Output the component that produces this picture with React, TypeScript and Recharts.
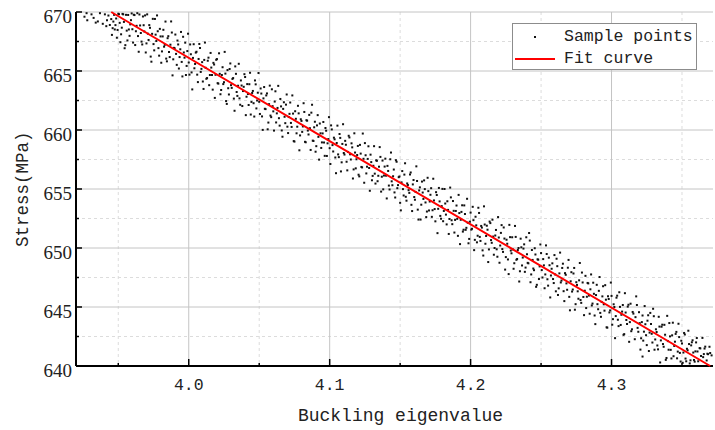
import React from "react";
import {
  ScatterChart,
  Scatter,
  XAxis,
  YAxis,
  CartesianGrid,
  Legend,
} from "recharts";

// values (first pass over the cloud)
const samplePointsA: [number, number][] = [
  [3.926, 669.6], [3.928, 669.3], [3.931, 669.8], [3.934, 669.1], [3.937, 669.9], [3.939, 669.0],
  [3.942, 669.3], [3.943, 669.7], [3.944, 668.9], [3.945, 669.4], [3.946, 668.63], [3.947, 669.76],
  [3.948, 668.89], [3.949, 667.82], [3.95, 669.85], [3.951, 669.08], [3.952, 668.11], [3.953, 669.84],
  [3.954, 669.16], [3.955, 667.19], [3.956, 668.42], [3.957, 669.75], [3.958, 667.98], [3.959, 669.31],
  [3.96, 668.54], [3.961, 669.77], [3.962, 667.2], [3.963, 668.83], [3.964, 667.96], [3.965, 669.79],
  [3.966, 668.22], [3.967, 667.25], [3.968, 668.88], [3.969, 669.71], [3.97, 667.34], [3.971, 668.16],
  [3.972, 668.89], [3.973, 666.22], [3.974, 668.15], [3.975, 667.28], [3.976, 669.41], [3.977, 667.54],
  [3.978, 668.37], [3.979, 666.3], [3.98, 667.93], [3.981, 666.66], [3.982, 668.49], [3.983, 667.22],
  [3.984, 666.05], [3.985, 667.78], [3.986, 666.61], [3.987, 667.23], [3.988, 668.26], [3.989, 665.99],
  [3.99, 666.92], [3.991, 666.45], [3.992, 667.58], [3.993, 665.21], [3.994, 666.84], [3.995, 665.77],
  [3.996, 667.9], [3.997, 666.13], [3.998, 664.66], [3.999, 666.69], [4.0, 665.72], [4.001, 667.25],
  [4.002, 664.88], [4.003, 666.11], [4.004, 665.23], [4.005, 666.56], [4.006, 664.69], [4.007, 666.02],
  [4.008, 666.95], [4.009, 665.18], [4.01, 664.11], [4.011, 665.94], [4.012, 665.27], [4.013, 664.4],
  [4.014, 666.13], [4.015, 664.66], [4.016, 665.29], [4.017, 663.42], [4.018, 665.55], [4.019, 664.68],
  [4.02, 666.01], [4.021, 663.93], [4.022, 664.76], [4.023, 663.39], [4.024, 665.32], [4.025, 664.05],
  [4.026, 664.78], [4.027, 662.21], [4.028, 663.54], [4.029, 665.17], [4.03, 663.8], [4.031, 664.33],
  [4.032, 662.66], [4.033, 665.39], [4.034, 663.22], [4.035, 663.75], [4.036, 662.68], [4.037, 664.2],
  [4.038, 662.03], [4.039, 663.66], [4.04, 664.49], [4.041, 662.82], [4.042, 663.05], [4.043, 663.88],
  [4.044, 661.31], [4.045, 663.14], [4.046, 662.27], [4.047, 664.2], [4.048, 661.83], [4.049, 663.16],
  [4.05, 662.39], [4.051, 663.52], [4.052, 661.15], [4.053, 662.68], [4.054, 661.8], [4.055, 662.93],
  [4.056, 660.06], [4.057, 662.19], [4.058, 661.22], [4.059, 663.45], [4.06, 661.58], [4.061, 662.41],
  [4.062, 660.64], [4.063, 661.87], [4.064, 661.0], [4.065, 662.63], [4.066, 659.96], [4.067, 661.79],
  [4.068, 661.12], [4.069, 662.15], [4.07, 660.28], [4.071, 661.1], [4.072, 662.33], [4.073, 660.26],
  [4.074, 661.39], [4.075, 659.02], [4.076, 660.95], [4.077, 660.28], [4.078, 661.41], [4.079, 659.54],
  [4.08, 660.77], [4.081, 660.3], [4.082, 661.53], [4.083, 658.96], [4.084, 660.79], [4.085, 659.62],
  [4.086, 660.15], [4.087, 661.47], [4.088, 659.1], [4.089, 660.23], [4.09, 658.16], [4.091, 660.39],
  [4.092, 659.42], [4.093, 660.55], [4.094, 658.48], [4.095, 659.71], [4.096, 658.94], [4.097, 660.17],
  [4.098, 657.8], [4.099, 659.23], [4.1, 658.46], [4.101, 660.39], [4.102, 658.72], [4.103, 659.35],
  [4.104, 657.67], [4.105, 658.9], [4.106, 657.93], [4.107, 659.66], [4.108, 656.49], [4.109, 658.82],
  [4.11, 658.05], [4.111, 659.08], [4.112, 657.31], [4.113, 658.14], [4.114, 659.37], [4.115, 657.5],
  [4.116, 658.53], [4.117, 656.66], [4.118, 658.09], [4.119, 657.52], [4.12, 658.65], [4.121, 656.07],
  [4.122, 658.0], [4.123, 656.83], [4.124, 657.56], [4.125, 658.89], [4.126, 656.32], [4.127, 657.55],
  [4.128, 656.78], [4.129, 657.91], [4.13, 655.74], [4.131, 656.97], [4.132, 656.3], [4.133, 657.43],
  [4.134, 655.66], [4.135, 656.89], [4.136, 657.72], [4.137, 656.04], [4.138, 654.97], [4.139, 656.9],
  [4.14, 656.13], [4.141, 656.96], [4.142, 655.29], [4.143, 657.52], [4.144, 655.65], [4.145, 656.08],
  [4.146, 654.71], [4.147, 657.44], [4.148, 655.07], [4.149, 656.0], [4.15, 653.83], [4.151, 655.56],
  [4.152, 654.99], [4.153, 656.22], [4.154, 654.34], [4.155, 655.47], [4.156, 654.9], [4.157, 656.23],
  [4.158, 653.66], [4.159, 655.39], [4.16, 654.32], [4.161, 654.75], [4.162, 655.68], [4.163, 652.41],
  [4.164, 655.14], [4.165, 653.67], [4.166, 654.7], [4.167, 655.73], [4.168, 653.86], [4.169, 653.09],
  [4.17, 654.82], [4.171, 653.94], [4.172, 655.07], [4.173, 653.2], [4.174, 654.03], [4.175, 652.26],
  [4.176, 654.49], [4.177, 653.32], [4.178, 653.95], [4.179, 652.48], [4.18, 655.01], [4.181, 653.14],
  [4.182, 653.77], [4.183, 652.0], [4.184, 653.23], [4.185, 652.46], [4.186, 654.29], [4.187, 652.02],
  [4.188, 653.15], [4.189, 652.38], [4.19, 653.6], [4.191, 651.03], [4.192, 652.96], [4.193, 652.39],
  [4.194, 653.62], [4.195, 651.55], [4.196, 652.88], [4.197, 651.71], [4.198, 652.14], [4.199, 650.77],
  [4.2, 653.0], [4.201, 651.63], [4.202, 652.36], [4.203, 650.69], [4.204, 651.92], [4.205, 651.04],
  [4.206, 652.97], [4.207, 650.6], [4.208, 651.73], [4.209, 649.36], [4.21, 651.99], [4.211, 651.02],
  [4.212, 651.55], [4.213, 649.88], [4.214, 652.11], [4.215, 650.44], [4.216, 650.97], [4.217, 650.0],
  [4.218, 651.53], [4.219, 649.26], [4.22, 650.89], [4.221, 650.21], [4.222, 651.94], [4.223, 649.67],
  [4.224, 650.8], [4.225, 649.23], [4.226, 650.36], [4.227, 647.79], [4.228, 650.92], [4.229, 649.55],
  [4.23, 649.88], [4.231, 648.71], [4.232, 650.94], [4.233, 649.07], [4.234, 650.0], [4.235, 648.03],
  [4.236, 650.06], [4.237, 649.19], [4.238, 650.31], [4.239, 648.34], [4.24, 649.47], [4.241, 648.7],
  [4.242, 650.63], [4.243, 647.76], [4.244, 648.99], [4.245, 648.12], [4.246, 649.45], [4.247, 646.88],
  [4.248, 649.01], [4.249, 648.44], [4.25, 649.57], [4.251, 647.5], [4.252, 648.53], [4.253, 647.76],
  [4.254, 649.49], [4.255, 646.81], [4.256, 648.54], [4.257, 647.67], [4.258, 648.7], [4.259, 647.03],
  [4.26, 647.76], [4.261, 649.09], [4.262, 646.02], [4.263, 647.85], [4.264, 647.08], [4.265, 648.31],
  [4.266, 646.34], [4.267, 647.87], [4.268, 647.0], [4.269, 648.33], [4.27, 645.86], [4.271, 647.18],
  [4.272, 646.31], [4.273, 647.84], [4.274, 644.77], [4.275, 647.1], [4.276, 646.33], [4.277, 647.26],
  [4.278, 645.59], [4.279, 647.92], [4.28, 645.85], [4.281, 646.38], [4.282, 644.91], [4.283, 647.04],
  [4.284, 645.97], [4.285, 646.5], [4.286, 645.13], [4.287, 647.06], [4.288, 644.28], [4.289, 646.01],
  [4.29, 645.24], [4.291, 646.37], [4.292, 644.5], [4.293, 645.43], [4.294, 646.76], [4.295, 644.69],
  [4.296, 645.62], [4.297, 643.25], [4.298, 645.68], [4.299, 644.71], [4.3, 645.94], [4.301, 643.97],
  [4.302, 645.0], [4.303, 644.23], [4.304, 645.96], [4.305, 643.38], [4.306, 645.01], [4.307, 644.34],
  [4.308, 645.17], [4.309, 642.7], [4.31, 644.53], [4.311, 643.56], [4.312, 645.19], [4.313, 643.72],
  [4.314, 642.95], [4.315, 644.58], [4.317, 644.14], [4.318, 645.17], [4.319, 642.9], [4.32, 643.63],
  [4.321, 642.35], [4.322, 640.8], [4.322, 644.28], [4.323, 642.91], [4.324, 643.54], [4.325, 641.77],
  [4.326, 644.3], [4.327, 642.83], [4.328, 643.56], [4.329, 641.99], [4.33, 644.22], [4.331, 642.25],
  [4.332, 642.88], [4.333, 641.41], [4.334, 643.34], [4.335, 642.17], [4.336, 643.5], [4.337, 641.63],
  [4.338, 642.65], [4.339, 640.68], [4.34, 642.11], [4.341, 643.64], [4.342, 641.37], [4.343, 642.6],
  [4.344, 640.83], [4.345, 642.06], [4.346, 642.89], [4.347, 641.22], [4.348, 642.45], [4.349, 640.38],
  [4.35, 641.91], [4.351, 641.14], [4.352, 642.67], [4.353, 640.4], [4.354, 641.33], [4.355, 641.86],
  [4.356, 640.48], [4.357, 642.01], [4.358, 641.14], [4.359, 640.37], [4.36, 642.0], [4.361, 641.23],
  [4.363, 641.49], [4.365, 640.75], [4.366, 641.48], [4.368, 641.04], [4.37, 641.1], [4.371, 640.9],
];

// second pass over the cloud, in between the first one
const samplePointsB: [number, number][] = [
  [3.9275, 669.9], [3.9325, 669.5], [3.9355, 669.2], [3.9405, 669.8], [3.9415, 668.8],
  [3.9455, 668.06], [3.9465, 669.19], [3.9475, 668.52], [3.9485, 669.45], [3.9495, 668.48], [3.9505, 669.81],
  [3.9515, 667.44], [3.9525, 668.67], [3.9535, 669.8], [3.9545, 666.93], [3.9555, 669.76], [3.9565, 667.59],
  [3.9575, 668.52], [3.9585, 668.95], [3.9595, 669.88], [3.9605, 667.41], [3.9615, 669.74], [3.9625, 668.37],
  [3.9635, 669.9], [3.9645, 666.63], [3.9655, 668.86], [3.9665, 667.49], [3.9675, 669.62], [3.9685, 668.35],
  [3.9695, 666.57], [3.9705, 669.8], [3.9715, 667.63], [3.9725, 668.66], [3.9735, 665.79], [3.9745, 669.42],
  [3.9755, 666.75], [3.9765, 668.08], [3.9775, 669.71], [3.9785, 666.94], [3.9795, 668.57], [3.9805, 665.7],
  [3.9815, 667.93], [3.9825, 667.06], [3.9835, 669.19], [3.9845, 665.82], [3.9855, 667.95], [3.9865, 666.18],
  [3.9875, 669.2], [3.9885, 664.63], [3.9895, 666.96], [3.9905, 668.09], [3.9915, 665.52], [3.9925, 667.25],
  [3.9935, 666.18], [3.9945, 668.31], [3.9955, 664.54], [3.9965, 666.57], [3.9975, 667.4], [3.9985, 665.43],
  [3.9995, 668.16], [4.0005, 664.69], [4.0015, 666.42], [4.0025, 663.44], [4.0035, 667.27], [4.0045, 665.6],
  [4.0055, 666.63], [4.0065, 664.06], [4.0075, 667.29], [4.0085, 664.92], [4.0095, 665.75], [4.0105, 663.48],
  [4.0115, 667.41], [4.0125, 664.34], [4.0135, 665.87], [4.0145, 663.8], [4.0155, 666.53], [4.0165, 664.66],
  [4.0175, 665.69], [4.0185, 662.72], [4.0195, 665.95], [4.0205, 663.97], [4.0215, 666.5], [4.0225, 663.03],
  [4.0235, 664.66], [4.0245, 663.89], [4.0255, 666.62], [4.0265, 662.45], [4.0275, 665.08], [4.0285, 663.01],
  [4.0295, 665.64], [4.0305, 663.57], [4.0315, 664.4], [4.0325, 661.63], [4.0335, 664.76], [4.0345, 662.89],
  [4.0355, 665.61], [4.0365, 662.14], [4.0375, 663.77], [4.0385, 663.3], [4.0395, 664.73], [4.0405, 661.26],
  [4.0415, 663.89], [4.0425, 662.12], [4.0435, 664.85], [4.0445, 662.38], [4.0455, 663.31], [4.0465, 661.14],
  [4.0475, 663.87], [4.0485, 662.5], [4.0495, 664.83], [4.0505, 661.36], [4.0515, 663.09], [4.0525, 660.01],
  [4.0535, 663.64], [4.0545, 661.77], [4.0555, 663.1], [4.0565, 660.63], [4.0575, 663.76], [4.0585, 661.09],
  [4.0595, 662.02], [4.0605, 659.95], [4.0615, 663.28], [4.0625, 661.41], [4.0635, 663.74], [4.0645, 660.37],
  [4.0655, 662.0], [4.0665, 659.43], [4.0675, 662.35], [4.0685, 660.58], [4.0695, 663.01], [4.0705, 659.74],
  [4.0715, 661.37], [4.0725, 660.6], [4.0735, 662.93], [4.0745, 659.06], [4.0755, 661.59], [4.0765, 659.72],
  [4.0775, 662.05], [4.0785, 658.28], [4.0795, 660.91], [4.0805, 659.84], [4.0815, 662.27], [4.0825, 659.0],
  [4.0835, 660.83], [4.0845, 659.95], [4.0855, 661.28], [4.0865, 658.31], [4.0875, 662.14], [4.0885, 659.07],
  [4.0895, 660.7], [4.0905, 658.63], [4.0915, 661.26], [4.0925, 657.49], [4.0935, 659.72], [4.0945, 658.95],
  [4.0955, 660.68], [4.0965, 657.81], [4.0975, 659.94], [4.0985, 658.87], [4.0995, 661.09], [4.1005, 657.12],
  [4.1015, 660.05], [4.1025, 658.18], [4.1035, 659.21], [4.1045, 656.34], [4.1055, 660.37], [4.1065, 657.7],
  [4.1075, 659.33], [4.1085, 657.26], [4.1095, 660.49], [4.1105, 657.92], [4.1115, 658.75], [4.1125, 656.58],
  [4.1135, 659.51], [4.1145, 657.94], [4.1155, 658.87], [4.1165, 655.89], [4.1175, 659.72], [4.1185, 656.75],
  [4.1195, 657.88], [4.1205, 656.21], [4.1215, 658.74], [4.1225, 656.87], [4.1235, 659.7], [4.1245, 655.53],
  [4.1255, 657.86], [4.1265, 656.89], [4.1275, 658.62], [4.1285, 654.85], [4.1295, 657.28], [4.1305, 656.11],
  [4.1315, 658.63], [4.1325, 655.46], [4.1335, 657.39], [4.1345, 656.12], [4.1355, 658.55], [4.1365, 654.78],
  [4.1375, 657.41], [4.1385, 656.14], [4.1395, 657.57], [4.1405, 654.2], [4.1415, 656.53], [4.1425, 654.96],
  [4.1435, 658.09], [4.1445, 655.32], [4.1455, 656.65], [4.1465, 654.28], [4.1475, 657.31], [4.1485, 655.33],
  [4.1495, 656.06], [4.1505, 653.19], [4.1515, 656.52], [4.1525, 654.45], [4.1535, 657.18], [4.1545, 654.01],
  [4.1555, 655.34], [4.1565, 654.67], [4.1575, 656.4], [4.1585, 653.13], [4.1595, 655.76], [4.1605, 654.09],
  [4.1615, 656.92], [4.1625, 653.25], [4.1635, 654.88], [4.1645, 652.41], [4.1655, 655.63], [4.1665, 654.16],
  [4.1675, 654.99], [4.1685, 652.62], [4.1695, 655.95], [4.1705, 653.18], [4.1715, 654.51], [4.1725, 652.64],
  [4.1735, 655.87], [4.1745, 653.3], [4.1755, 654.73], [4.1765, 651.26], [4.1775, 655.09], [4.1785, 652.72],
  [4.1795, 653.55], [4.1805, 652.27], [4.1815, 655.0], [4.1825, 652.83], [4.1835, 653.96], [4.1845, 651.19],
  [4.1855, 655.12], [4.1865, 652.35], [4.1875, 653.98], [4.1885, 651.31], [4.1895, 653.14], [4.1905, 652.47],
  [4.1915, 654.5], [4.1925, 650.33], [4.1935, 653.06], [4.1945, 651.39], [4.1955, 653.61], [4.1965, 651.54],
  [4.1975, 654.17], [4.1985, 650.4], [4.1995, 652.23], [4.2005, 651.56], [4.2015, 653.49], [4.2025, 649.82],
  [4.2035, 652.65], [4.2045, 650.48], [4.2055, 653.41], [4.2065, 650.94], [4.2075, 651.87], [4.2085, 649.8],
  [4.2095, 653.53], [4.2105, 650.36], [4.2115, 651.89], [4.2125, 648.81], [4.2135, 652.24], [4.2145, 650.67],
  [4.2155, 652.4], [4.2165, 649.43], [4.2175, 651.06], [4.2185, 649.89], [4.2195, 652.62], [4.2205, 648.75],
  [4.2215, 651.28], [4.2225, 649.91], [4.2235, 651.74], [4.2245, 648.17], [4.2255, 650.7], [4.2265, 649.03],
  [4.2275, 651.96], [4.2285, 649.78], [4.2295, 650.91], [4.2305, 648.24], [4.2315, 651.87], [4.2325, 649.0],
  [4.2335, 649.83], [4.2345, 647.16], [4.2355, 650.79], [4.2365, 648.52], [4.2375, 649.95], [4.2385, 647.98],
  [4.2395, 650.91], [4.2405, 648.74], [4.2415, 651.27], [4.2425, 647.1], [4.2435, 649.83], [4.2445, 648.26],
  [4.2455, 649.98], [4.2465, 646.71], [4.2475, 649.04], [4.2485, 647.37], [4.2495, 650.3], [4.2505, 648.13],
  [4.2515, 649.06], [4.2525, 646.59], [4.2535, 650.22], [4.2545, 647.35], [4.2555, 649.18], [4.2565, 645.81],
  [4.2575, 648.24], [4.2585, 647.37], [4.2595, 649.4], [4.2605, 646.33], [4.2615, 648.46], [4.2625, 646.58],
  [4.2635, 649.61], [4.2645, 647.24], [4.2655, 648.67], [4.2665, 645.5], [4.2675, 647.73], [4.2685, 646.46],
  [4.2695, 648.99], [4.2705, 644.72], [4.2715, 647.95], [4.2725, 646.48], [4.2735, 648.31], [4.2745, 645.24],
  [4.2755, 646.87], [4.2765, 645.7], [4.2775, 648.73], [4.2785, 645.35], [4.2795, 647.08], [4.2805, 644.31],
  [4.2815, 647.64], [4.2825, 645.87], [4.2835, 647.0], [4.2845, 644.43], [4.2855, 647.76], [4.2865, 645.29],
  [4.2875, 646.12], [4.2885, 643.55], [4.2895, 646.88], [4.2905, 644.81], [4.2915, 647.54], [4.2925, 644.17],
  [4.2935, 645.9], [4.2945, 645.23], [4.2955, 646.85], [4.2965, 643.28], [4.2975, 645.91], [4.2985, 644.54],
  [4.2995, 647.07], [4.3005, 643.5], [4.3015, 645.23], [4.3025, 642.36], [4.3035, 645.79], [4.3045, 643.92],
  [4.3055, 646.25], [4.3065, 643.48], [4.3075, 644.61], [4.3085, 642.64], [4.3095, 646.17], [4.3105, 643.9],
  [4.3115, 645.03], [4.3125, 642.05], [4.3135, 645.28], [4.3145, 643.11], [4.3155, 644.44], [4.3165, 642.27],
  [4.3175, 645.9], [4.3185, 643.23], [4.3195, 644.56], [4.3205, 641.39], [4.3215, 643.72], [4.3225, 642.15],
  [4.3235, 645.08], [4.3245, 642.61], [4.3255, 643.84], [4.3265, 641.27], [4.3275, 644.5], [4.3285, 642.73],
  [4.3295, 644.85], [4.3305, 641.38], [4.3315, 643.11], [4.3325, 641.74], [4.3335, 644.17], [4.3345, 640.3],
  [4.3355, 643.33], [4.3365, 641.86], [4.3375, 643.49], [4.3385, 640.52], [4.3395, 644.25], [4.3405, 641.38],
  [4.3415, 642.51], [4.3425, 640.64], [4.3435, 643.67], [4.3445, 641.7], [4.3455, 642.72], [4.3465, 640.65],
  [4.3475, 643.58], [4.3485, 641.11], [4.3495, 642.14], [4.3505, 640.27], [4.3515, 642.8], [4.3525, 640.63],
  [4.3535, 641.46], [4.3545, 642.99], [4.3555, 640.22], [4.3565, 641.75], [4.3575, 642.18], [4.3585, 640.51],
  [4.3595, 641.24], [4.3605, 642.37], [4.3615, 640.4], [4.3625, 641.52], [4.3635, 640.85], [4.3645, 642.38],
  [4.3655, 641.01], [4.3665, 641.64], [4.3675, 640.47], [4.3685, 641.0], [4.3695, 641.63],
];

const fitX = [3.945, 4.1, 4.37];
const fitY = [670, 659.06, 640];

const xMajor = [4.0, 4.1, 4.2, 4.3];
const xMinor = [3.95, 4.05, 4.15, 4.25, 4.35];
const yMajor = [640, 645, 650, 655, 660, 665, 670];
const yMinor = [642.5, 647.5, 652.5, 657.5, 662.5, 667.5];

const sampleData = [...samplePointsA, ...samplePointsB].map(([x, y]) => ({ x, y }));
const fitData = fitX.map((x, i) => ({ x, y: fitY[i] }));
const xTicks = [...xMinor, ...xMajor].sort((a, b) => a - b);
const yTicks = [...yMinor, ...yMajor].sort((a, b) => a - b);

const MONO = "'Liberation Mono', 'DejaVu Sans Mono', monospace";
const SERIF = "'Liberation Serif', 'DejaVu Serif', serif";

function SampleDot(props: any) {
  const { cx, cy } = props;
  if (cx == null || cy == null) return null;
  return <rect x={cx - 1} y={cy - 1} width={2} height={2} fill="#111" />;
}

function XTick(props: any) {
  const { x, y, payload } = props;
  const major = xMajor.includes(payload.value);
  return (
    <g>
      <line x1={x} x2={x} y1={y} y2={y - (major ? 7 : 3)} stroke="#000" strokeWidth={1.5} />
      {major && (
        <text x={x} y={y + 12} dy="0.71em" textAnchor="middle" fontFamily={MONO} fontSize={16.5} fill="#222">
          {payload.value.toFixed(1)}
        </text>
      )}
    </g>
  );
}

function YTick(props: any) {
  const { x, y, payload } = props;
  const major = yMajor.includes(payload.value);
  return (
    <g>
      <line x1={x + 4} x2={x + 4 + (major ? 6 : 3)} y1={y} y2={y} stroke="#000" strokeWidth={1.5} />
      {major && (
        <text x={x} y={y + 4} dy="0.355em" textAnchor="end" fontFamily={SERIF} fontSize={19} fill="#222">
          {payload.value}
        </text>
      )}
    </g>
  );
}

function LegendBox() {
  return (
    <div
      style={{
        position: "relative",
        width: 183,
        height: 45,
        border: "1px solid #8c8c8c",
        background: "#fff",
        fontFamily: MONO,
        fontSize: 16.5,
        color: "#222",
      }}
    >
      <div style={{ position: "absolute", left: 21, top: 12, width: 2, height: 2, background: "#111" }} />
      <div style={{ position: "absolute", left: 51, top: 2, lineHeight: "22px" }}>Sample points</div>
      <div style={{ position: "absolute", left: 2, top: 34, width: 40, height: 2, background: "#ff0000" }} />
      <div style={{ position: "absolute", left: 51, top: 24, lineHeight: "22px" }}>Fit curve</div>
    </div>
  );
}

export default function App() {
  return (
    <div style={{ position: "absolute", left: 0, top: 0, background: "#fff" }}>
      <ScatterChart width={715} height={430} margin={{ top: 12, right: 2, bottom: 0, left: 0 }}>
        <CartesianGrid horizontalValues={yMinor} verticalValues={xMinor} stroke="#dcdcdc" strokeDasharray="3 3" />
        <CartesianGrid horizontalValues={yMajor} verticalValues={xMajor} stroke="#c4c4c4" />
        <XAxis
          type="number"
          dataKey="x"
          domain={[3.92, 4.372]}
          ticks={xTicks}
          interval={0}
          height={64}
          tickSize={0}
          tickMargin={0}
          tick={<XTick />}
          axisLine={{ stroke: "#000", strokeWidth: 2 }}
          label={{
            value: "Buckling eigenvalue",
            position: "insideBottom",
            offset: 9,
            dx: 6,
            style: { fontFamily: MONO, fontSize: 18, fill: "#222" },
          }}
        />
        <XAxis
          xAxisId="top"
          orientation="top"
          type="number"
          dataKey="x"
          domain={[3.92, 4.372]}
          height={0}
          tick={false}
          tickLine={false}
          axisLine={{ stroke: "#000", strokeWidth: 2 }}
        />
        <YAxis
          type="number"
          dataKey="y"
          domain={[640, 670]}
          ticks={yTicks}
          interval={0}
          width={76}
          tickSize={0}
          tickMargin={4}
          tick={<YTick />}
          axisLine={{ stroke: "#000", strokeWidth: 2 }}
          label={{
            value: "Stress(MPa)",
            angle: -90,
            position: "insideLeft",
            offset: 22,
            dy: 58,
            style: { fontFamily: MONO, fontSize: 17.5, fill: "#222" },
          }}
        />
        <Legend
          layout="horizontal"
          verticalAlign="middle"
          align="center"
          wrapperStyle={{ left: 512, top: 23, width: 185 }}
          content={<LegendBox />}
        />
        <Scatter
          name="Sample points"
          data={sampleData}
          shape={<SampleDot />}
          isAnimationActive={false}
        />
        <Scatter
          name="Fit curve"
          data={fitData}
          line={{ stroke: "#ff0000", strokeWidth: 2 }}
          shape={() => <g />}
          isAnimationActive={false}
        />
      </ScatterChart>
    </div>
  );
}
